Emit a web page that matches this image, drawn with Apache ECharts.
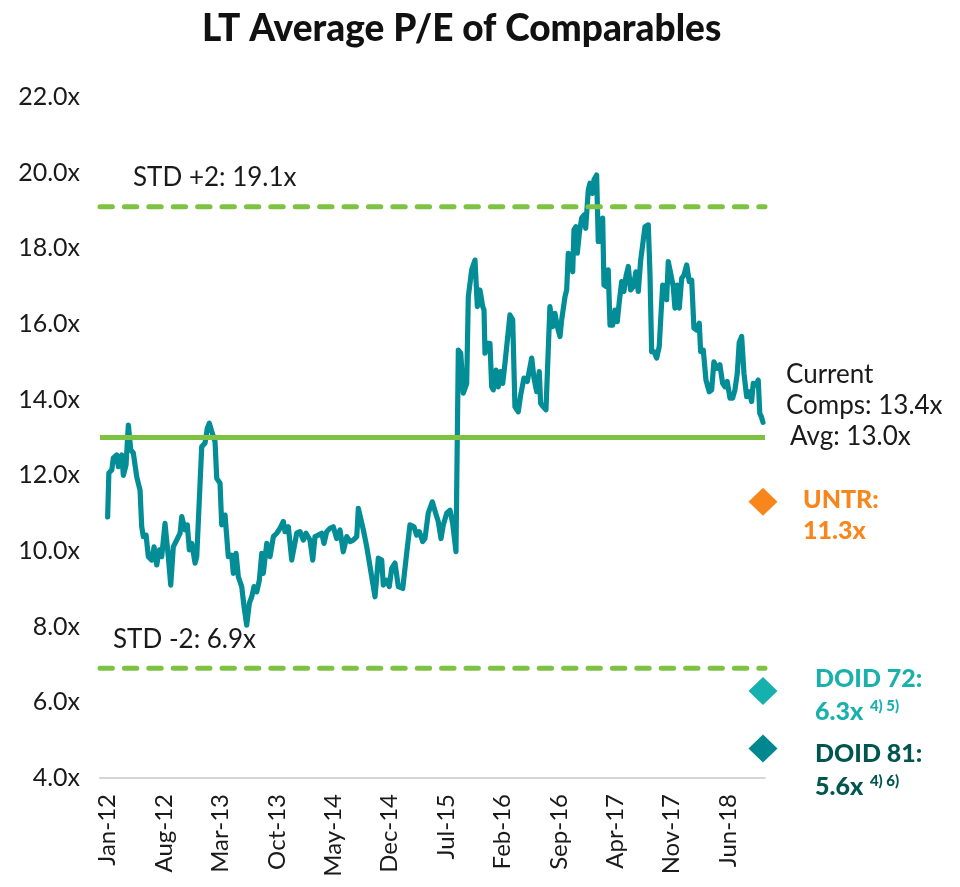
<!DOCTYPE html>
<html>
<head>
<meta charset="utf-8">
<title>LT Average P/E of Comparables</title>
<script src="https://cdn.jsdelivr.net/npm/echarts@6/dist/echarts.min.js"></script>
<style>
  html, body { margin: 0; padding: 0; background: #ffffff; }
  #chart { width: 960px; height: 887px; }
</style>
</head>
<body>
<div id="chart"></div>
<script>
// Observation times, in months elapsed since 1 Jan 2012
const monthsSince2012 = [
  0, 0.15, 0.51, 0.71, 1.13, 1.33, 1.75, 1.95, 2.28, 2.57,
  2.87, 3.19, 3.61, 4.02, 4.23, 4.43, 4.77, 5.05, 5.47, 5.76,
  6.09, 6.42, 6.71, 7.12, 7.53, 7.83, 8.15, 8.58, 8.99, 9.2,
  9.61, 9.89, 10.14, 10.44, 10.85, 11.06, 11.47, 11.68, 12.09, 12.37,
  12.62, 12.92, 13.33, 13.54, 13.95, 14.16, 14.57, 14.98, 15.4, 15.6,
  15.94, 16.22, 16.64, 16.93, 17.26, 17.59, 17.89, 18.17, 18.51, 18.83,
  19.13, 19.32, 19.75, 19.95, 20.16, 20.57, 20.99, 21.4, 21.81, 22.02,
  22.43, 22.85, 23.47, 23.88, 24.29, 24.62, 25.12, 25.46, 25.74, 26.15,
  26.57, 26.86, 27.19, 27.6, 28.01, 28.43, 28.84, 29.25, 29.68, 30.09,
  30.5, 30.92, 31.12, 31.74, 32.16, 32.57, 33.19, 33.6, 34.02, 34.22,
  34.64, 34.96, 35.26, 35.67, 36.08, 36.63, 37.12, 37.53, 38.03, 38.36,
  38.69, 39.11, 39.39, 39.8, 40.3, 40.72, 41.04, 41.38, 41.67, 42.09,
  42.5, 42.83, 43.24, 43.53, 43.83, 44.15, 44.57, 44.77, 45.19, 45.6,
  45.89, 46.22, 46.56, 46.72, 46.84, 47.13, 47.46, 47.67, 47.87, 48.21,
  48.49, 48.79, 49.04, 49.32, 49.94, 50.28, 50.56, 50.97, 51.27, 51.68,
  52.09, 52.64, 52.92, 53.26, 53.58, 53.75, 54.08, 54.41, 54.9, 55.24,
  55.53, 55.82, 56.15, 56.36, 56.77, 56.98, 57.18, 57.48, 57.73, 57.89,
  58.14, 58.3, 58.55, 58.84, 59.13, 59.34, 59.66, 59.87, 60.16, 60.37,
  60.7, 60.9, 61.2, 61.45, 61.61, 61.86, 62.14, 62.36, 62.69, 62.98,
  63.26, 63.51, 63.81, 64.09, 64.34, 64.63, 64.92, 65.25, 65.58, 65.87,
  66.17, 66.49, 66.7, 67.11, 67.32, 67.53, 67.82, 68.15, 68.47, 68.65,
  68.9, 69.18, 69.39, 69.59, 69.89, 70.21, 70.42, 70.71, 70.96, 71.26,
  71.54, 71.88, 72.2, 72.5, 72.78, 73.12, 73.44, 73.61, 73.94, 74.27,
  74.68, 74.98, 75.26, 75.67, 76.0, 76.34, 76.63, 76.91, 77.25, 77.58,
  77.87, 78.16, 78.4, 78.7, 78.99, 79.32, 79.64, 79.94, 80.14, 80.48,
  80.76, 80.95, 81.15, 81.35
];

// Long-term average P/E of the comparables set (x)
const peValues = [
  10.9, 12.06, 12.14, 12.46, 12.54, 12.23, 12.54, 12.0, 12.27, 13.33,
  12.67, 12.59, 11.96, 11.61, 10.64, 10.38, 10.42, 9.85, 9.76, 10.11,
  9.63, 10.03, 9.85, 10.73, 9.85, 9.1, 10.11, 10.29, 10.47, 10.91,
  10.56, 10.69, 10.03, 10.2, 9.68, 9.85, 11.79, 12.76, 12.85, 13.24,
  13.38, 13.16, 12.89, 11.92, 11.79, 10.69, 10.95, 9.85, 9.89, 9.41,
  9.94, 9.32, 9.06, 8.53, 8.04, 8.62, 8.79, 9.06, 8.92, 9.23,
  9.94, 9.41, 10.2, 10.25, 9.85, 10.38, 10.47, 10.6, 10.78, 10.51,
  10.64, 9.76, 10.47, 10.51, 10.29, 10.47, 10.29, 9.76, 10.38, 10.42,
  10.47, 10.2, 10.51, 10.6, 10.64, 10.33, 10.56, 9.98, 10.38, 10.25,
  10.29, 10.38, 11.13, 10.56, 10.11, 9.59, 8.79, 9.81, 9.76, 9.1,
  9.23, 9.06, 9.54, 9.68, 9.06, 9.01, 9.94, 10.69, 10.64, 10.42,
  10.51, 10.25, 10.33, 11.0, 11.3, 11.0, 10.78, 10.33, 10.69, 11.0,
  11.08, 10.73, 9.98, 15.31, 15.23, 14.17, 14.43, 16.72, 17.43, 17.69,
  16.46, 16.9, 16.46, 16.37, 15.23, 15.49, 15.49, 14.34, 14.26, 14.78,
  14.34, 14.74, 14.43, 14.96, 16.24, 16.11, 13.81, 13.68, 14.12, 14.57,
  14.48, 15.1, 14.57, 14.21, 14.74, 13.9, 13.81, 13.73, 16.46, 15.93,
  16.28, 15.93, 15.67, 16.11, 16.72, 16.9, 17.87, 17.82, 17.38, 18.49,
  18.57, 17.87, 18.4, 18.8, 18.88, 18.53, 19.54, 19.72, 19.45, 19.81,
  19.94, 18.18, 18.18, 18.8, 17.03, 16.99, 17.43, 15.97, 15.97, 16.37,
  16.06, 16.59, 17.12, 16.86, 17.26, 17.52, 16.9, 16.99, 17.38, 16.86,
  17.69, 18.22, 18.57, 18.62, 17.34, 15.27, 15.27, 15.1, 15.4, 16.11,
  17.03, 16.99, 16.64, 17.65, 17.34, 16.99, 16.42, 17.03, 16.42, 17.21,
  17.29, 17.56, 17.12, 17.16, 15.89, 15.84, 16.02, 15.27, 15.31, 14.52,
  14.21, 14.26, 15.0, 14.83, 14.92, 14.43, 14.34, 14.48, 14.04, 14.04,
  14.26, 14.7, 15.51, 15.67, 14.7, 14.08, 14.21, 13.95, 14.43, 14.39,
  14.52, 13.64, 13.55, 13.4
];

// Reference levels
const longTermAvg = 13.0;
const stdUpper = 19.1;
const stdLower = 6.9;

// Peer companies shown against the comps
const peerNames = ['UNTR', 'DOID 72', 'DOID 81'];
const peerValues = [11.3, 6.3, 5.6];
const peerNotes = ['', '4) 5)', '4) 6)'];

// Month offsets that carry an axis label (every 7 months)
const xLabelMonths = [0, 7, 14, 21, 28, 35, 42, 49, 56, 63, 70, 77];
const monthNames = ['Jan', 'Feb', 'Mar', 'Apr', 'May', 'Jun', 'Jul', 'Aug', 'Sep', 'Oct', 'Nov', 'Dec'];

const FONT = 'Lato, "Noto Sans", sans-serif';
const TEAL = '#038D97';
const GREEN = '#7DC243';
const xMin = -0.95;
const xMax = 81.6;

const seriesData = monthsSince2012.map((m, i) => [m, peValues[i]]);
const lastMonth = monthsSince2012[monthsSince2012.length - 1];
const currentComps = peValues[peValues.length - 1];

const peerColors = ['#F7861C', '#14B1AE', '#01878F'];
const peerLabelColors = ['#F7861C', '#1AB1AD', '#00564F'];

function monthLabel(v) {
  const m = Math.round(v);
  return monthNames[((m % 12) + 12) % 12] + '-' + (12 + Math.floor(m / 12));
}

function levelLine(name, value, dashed) {
  return {
    name: name,
    type: 'line',
    data: [[xMin, value], [xMax, value]],
    symbol: 'none',
    silent: true,
    z: 4,
    lineStyle: {
      color: GREEN,
      width: 5,
      type: dashed ? [12.4, 12] : 'solid',
      cap: dashed ? 'round' : 'butt'
    }
  };
}

const chart = echarts.init(document.getElementById('chart'), null, { renderer: 'canvas' });

const textBase = { fontFamily: FONT, fontSize: 26, fill: '#1a1a1a', verticalAlign: 'middle', align: 'left' };

function annot(x, y, text, extra) {
  return { type: 'text', x: x, y: y, silent: true, z: 10, style: Object.assign({}, textBase, { text: text }, extra || {}) };
}

const peerLabelPos = [[803, 500, 531], [815, 679, 712], [815, 754, 787]];
const peerGraphics = [];
peerNames.forEach((n, i) => {
  const p = peerLabelPos[i];
  peerGraphics.push(annot(p[0], p[1], n + ':', { fontWeight: 900, fontSize: 25, fill: peerLabelColors[i] }));
  const note = peerNotes[i];
  peerGraphics.push({
    type: 'text', x: p[0], y: p[2], silent: true, z: 10,
    style: {
      text: '{v|' + peerValues[i].toFixed(1) + 'x}' + (note ? '  {s|' + note + '}' : ''),
      verticalAlign: 'middle',
      align: 'left',
      rich: {
        v: { fontFamily: FONT, fontSize: 25, fontWeight: 900, fill: peerLabelColors[i], lineHeight: 28 },
        s: { fontFamily: FONT, fontSize: 15, fontWeight: 900, fill: peerLabelColors[i], lineHeight: 28, verticalAlign: 'top', padding: [1, 0, 0, 0] }
      }
    }
  });
});

chart.setOption({
  animation: false,
  backgroundColor: '#ffffff',
  title: {
    text: 'LT Average P/E of Comparables',
    left: 197,
    top: 6,
    textStyle: { fontFamily: FONT, fontSize: 37, fontWeight: 900, color: '#111111' }
  },
  grid: { left: 100, right: 195, top: 97, bottom: 109, containLabel: false },
  xAxis: {
    type: 'value',
    min: xMin,
    max: xMax,
    splitLine: { show: false },
    axisTick: { show: false },
    axisLine: { show: true, lineStyle: { color: '#D6D6D6', width: 2 } },
    axisLabel: {
      customValues: xLabelMonths,
      rotate: 90,
      margin: 16,
      fontFamily: FONT,
      fontSize: 24,
      color: '#1a1a1a',
      formatter: monthLabel
    }
  },
  yAxis: {
    type: 'value',
    min: 4,
    max: 22,
    interval: 2,
    splitLine: { show: false },
    axisTick: { show: false },
    axisLine: { show: false },
    axisLabel: {
      margin: 20,
      fontFamily: FONT,
      fontSize: 25,
      color: '#1a1a1a',
      formatter: v => v.toFixed(1) + 'x'
    }
  },
  series: [
    {
      name: 'LT Average P/E',
      type: 'line',
      data: seriesData,
      symbol: 'none',
      z: 3,
      lineStyle: { color: TEAL, width: 5.2, join: 'round', cap: 'round' }
    },
    levelLine('Average', longTermAvg, false),
    levelLine('STD +2', stdUpper, true),
    levelLine('STD -2', stdLower, true),
    {
      name: 'Peers',
      type: 'scatter',
      z: 5,
      symbol: 'diamond',
      symbolSize: [29, 28],
      itemStyle: { opacity: 1 },
      data: peerValues.map((v, i) => ({
        value: [lastMonth, v],
        itemStyle: { color: peerColors[i], opacity: 1 },
        // keep the last marker beside its own label, clear of the one above
        symbolOffset: i === 2 ? [0, 31] : [0, 0]
      }))
    }
  ],
  graphic: [
    annot(133, 178, 'STD +2: ' + stdUpper.toFixed(1) + 'x'),
    annot(113, 640, 'STD -2: ' + stdLower.toFixed(1) + 'x'),
    annot(786, 375, 'Current'),
    annot(786, 406, 'Comps: ' + currentComps.toFixed(1) + 'x'),
    annot(790, 437, 'Avg: ' + longTermAvg.toFixed(1) + 'x')
  ].concat(peerGraphics)
});
</script>
</body>
</html>
